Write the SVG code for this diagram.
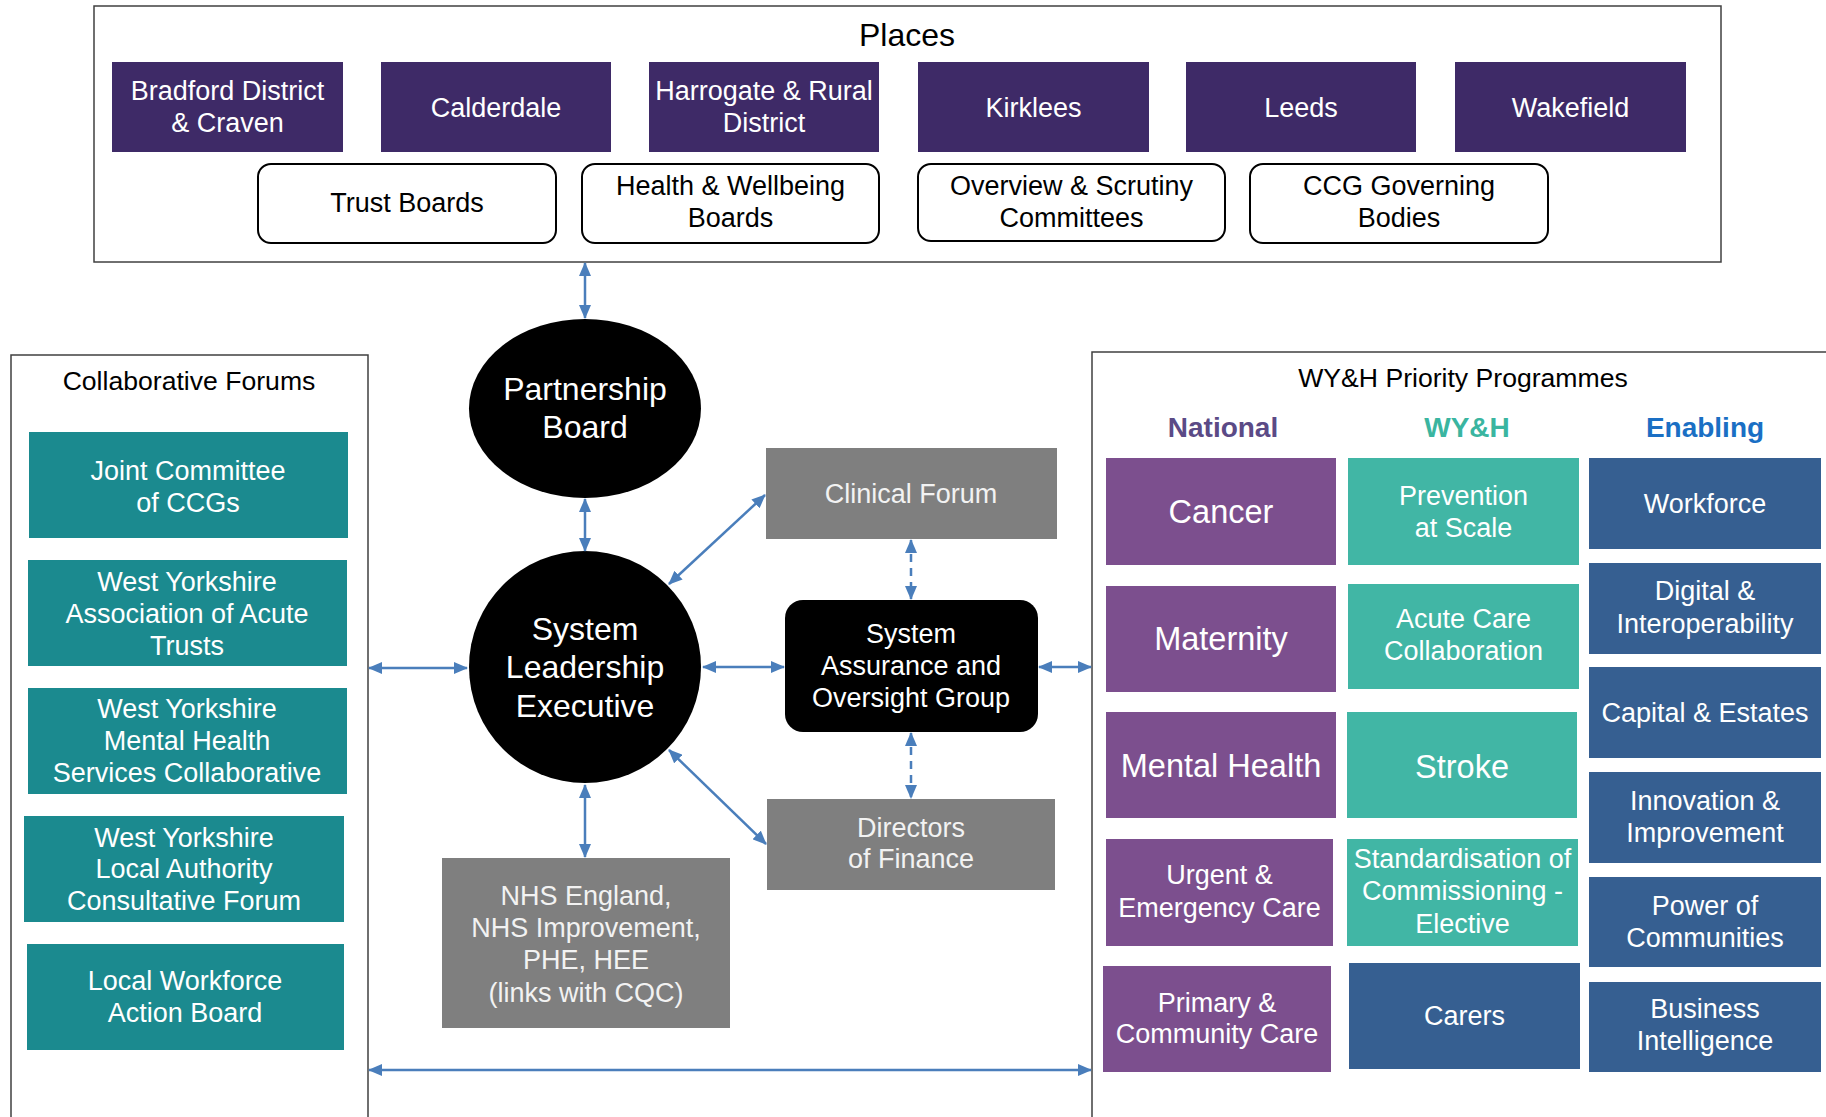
<svg xmlns="http://www.w3.org/2000/svg" width="1826" height="1117" viewBox="0 0 1826 1117">
<defs>
<style>
text{font-family:"Liberation Sans",Arial,sans-serif;text-anchor:middle;font-size:27px}
.w{fill:#fff}
.lg{fill:#f2f2f2}
.k{fill:#000}
.big{font-size:32px}
.med{font-size:32.5px}
.ttl{font-size:26.6px}
.hdr{font-weight:bold;font-size:28px}
.place{fill:#3e2a67}
.board{fill:#fff;stroke:#000;stroke-width:2}
.cf{fill:#1b8a8f}
.nat{fill:#7c4f8e}
.wyh{fill:#41b6a5}
.en{fill:#365f91}
.gray{fill:#7f7f7f}
.frame{fill:none;stroke:#404040;stroke-width:1.5}
.conn{stroke:#4a7ebb;stroke-width:2.5;fill:none;marker-start:url(#ah);marker-end:url(#ah)}
.dash{stroke-dasharray:8 6}
</style>
<marker id="ah" viewBox="0 0 14 12" refX="13" refY="6" markerWidth="14" markerHeight="12" markerUnits="userSpaceOnUse" orient="auto-start-reverse"><path d="M0,0 L14,6 L0,12 z" fill="#4a7ebb"/></marker>
</defs>
<rect width="1826" height="1117" fill="#fff"/>

<g id="places">
<rect class="frame" x="94" y="6" width="1627" height="256"/>
<text class="k" x="907" y="46" style="font-size:32px">Places</text>
</g>
<g id="bradford"><rect class="place" x="112" y="62" width="231" height="90"/><text class="w" x="227.5" y="100">Bradford District</text><text class="w" x="227.5" y="132">&amp; Craven</text></g>
<g id="calderdale"><rect class="place" x="381" y="62" width="230" height="90"/><text class="w" x="496" y="117">Calderdale</text></g>
<g id="harrogate"><rect class="place" x="649" y="62" width="230" height="90"/><text class="w" x="764" y="100">Harrogate &amp; Rural</text><text class="w" x="764" y="132">District</text></g>
<g id="kirklees"><rect class="place" x="918" y="62" width="231" height="90"/><text class="w" x="1033.5" y="117">Kirklees</text></g>
<g id="leeds"><rect class="place" x="1186" y="62" width="230" height="90"/><text class="w" x="1301" y="117">Leeds</text></g>
<g id="wakefield"><rect class="place" x="1455" y="62" width="231" height="90"/><text class="w" x="1570.5" y="117">Wakefield</text></g>

<g id="trust-boards"><rect class="board" x="258" y="164" width="298" height="79" rx="13"/><text class="k" x="407" y="212">Trust Boards</text></g>
<g id="hw-boards"><rect class="board" x="582" y="164" width="297" height="79" rx="13"/><text class="k" x="730.5" y="195">Health &amp; Wellbeing</text><text class="k" x="730.5" y="227">Boards</text></g>
<g id="overview"><rect class="board" x="918" y="164" width="307" height="77" rx="13"/><text class="k" x="1071.5" y="195">Overview &amp; Scrutiny</text><text class="k" x="1071.5" y="227">Committees</text></g>
<g id="ccg"><rect class="board" x="1250" y="164" width="298" height="79" rx="13"/><text class="k" x="1399" y="195">CCG Governing</text><text class="k" x="1399" y="227">Bodies</text></g>

<g id="collaborative-forums">
<path class="frame" d="M11,1120 V355 H368 V1120"/>
<text class="k ttl" x="189" y="390">Collaborative Forums</text>
</g>
<g id="joint-committee"><rect class="cf" x="29" y="432" width="319" height="106"/><text class="w" x="188" y="480">Joint Committee</text><text class="w" x="188" y="512">of CCGs</text></g>
<g id="wyaat"><rect class="cf" x="28" y="560" width="319" height="106"/><text class="w" x="187" y="591">West Yorkshire</text><text class="w" x="187" y="623">Association of Acute</text><text class="w" x="187" y="655">Trusts</text></g>
<g id="wymhsc"><rect class="cf" x="28" y="688" width="319" height="106"/><text class="w" x="187" y="718">West Yorkshire</text><text class="w" x="187" y="750">Mental Health</text><text class="w" x="187" y="782">Services Collaborative</text></g>
<g id="wylacf"><rect class="cf" x="24" y="816" width="320" height="106"/><text class="w" x="184" y="847">West Yorkshire</text><text class="w" x="184" y="878">Local Authority</text><text class="w" x="184" y="910">Consultative Forum</text></g>
<g id="lwab"><rect class="cf" x="27" y="944" width="317" height="106"/><text class="w" x="185" y="990">Local Workforce</text><text class="w" x="185" y="1022">Action Board</text></g>

<g id="partnership-board"><ellipse class="k" cx="585" cy="408.5" rx="116" ry="89.5"/><text class="w big" x="585" y="400">Partnership</text><text class="w big" x="585" y="438">Board</text></g>
<g id="sle"><ellipse class="k" cx="585" cy="667" rx="116" ry="116"/><text class="w big" x="585" y="640">System</text><text class="w big" x="585" y="678">Leadership</text><text class="w big" x="585" y="717">Executive</text></g>
<g id="clinical-forum"><rect class="gray" x="766" y="448" width="291" height="91"/><text class="lg" x="911" y="503">Clinical Forum</text></g>
<g id="saog"><rect class="k" x="785" y="600" width="253" height="132" rx="18"/><text class="w" x="911" y="643">System</text><text class="w" x="911" y="675">Assurance and</text><text class="w" x="911" y="707">Oversight Group</text></g>
<g id="directors-finance"><rect class="gray" x="767" y="799" width="288" height="91"/><text class="lg" x="911" y="837">Directors</text><text class="lg" x="911" y="868">of Finance</text></g>
<g id="nhs"><rect class="gray" x="442" y="858" width="288" height="170"/><text class="lg" x="586" y="905">NHS England,</text><text class="lg" x="586" y="937">NHS Improvement,</text><text class="lg" x="586" y="969">PHE, HEE</text><text class="lg" x="586" y="1002">(links with CQC)</text></g>

<g id="priority-programmes">
<path class="frame" d="M1092,1120 V352 H1830"/>
<text class="k ttl" x="1463" y="387">WY&amp;H Priority Programmes</text>
<text class="hdr" x="1223" y="437" fill="#5b4a86">National</text>
<text class="hdr" x="1467" y="437" fill="#3ab5a0">WY&amp;H</text>
<text class="hdr" x="1705" y="437" fill="#1a6fc4">Enabling</text>
</g>
<g id="cancer"><rect class="nat" x="1106" y="458" width="230" height="107"/><text class="w med" x="1221" y="523">Cancer</text></g>
<g id="maternity"><rect class="nat" x="1106" y="586" width="230" height="106"/><text class="w med" x="1221" y="650">Maternity</text></g>
<g id="mental-health"><rect class="nat" x="1106" y="712" width="230" height="106"/><text class="w med" x="1221" y="777">Mental Health</text></g>
<g id="urgent"><rect class="nat" x="1106" y="839" width="227" height="107"/><text class="w" x="1219.5" y="884">Urgent &amp;</text><text class="w" x="1219.5" y="917">Emergency Care</text></g>
<g id="primary"><rect class="nat" x="1103" y="966" width="228" height="106"/><text class="w" x="1217" y="1012">Primary &amp;</text><text class="w" x="1217" y="1043">Community Care</text></g>

<g id="prevention"><rect class="wyh" x="1348" y="458" width="231" height="107"/><text class="w" x="1463.5" y="505">Prevention</text><text class="w" x="1463.5" y="537">at Scale</text></g>
<g id="acute"><rect class="wyh" x="1348" y="584" width="231" height="105"/><text class="w" x="1463.5" y="628">Acute Care</text><text class="w" x="1463.5" y="660">Collaboration</text></g>
<g id="stroke"><rect class="wyh" x="1347" y="712" width="230" height="106"/><text class="w med" x="1462" y="778">Stroke</text></g>
<g id="standardisation"><rect class="wyh" x="1347" y="839" width="231" height="107"/><text class="w" x="1462.5" y="868">Standardisation of</text><text class="w" x="1462.5" y="900">Commissioning -</text><text class="w" x="1462.5" y="933">Elective</text></g>
<g id="carers"><rect class="en" x="1349" y="963" width="231" height="106"/><text class="w" x="1464.5" y="1025">Carers</text></g>

<g id="workforce"><rect class="en" x="1589" y="458" width="232" height="91"/><text class="w" x="1705" y="513">Workforce</text></g>
<g id="digital"><rect class="en" x="1589" y="563" width="232" height="91"/><text class="w" x="1705" y="600">Digital &amp;</text><text class="w" x="1705" y="633">Interoperability</text></g>
<g id="capital"><rect class="en" x="1589" y="667" width="232" height="91"/><text class="w" x="1705" y="722">Capital &amp; Estates</text></g>
<g id="innovation"><rect class="en" x="1589" y="772" width="232" height="91"/><text class="w" x="1705" y="810">Innovation &amp;</text><text class="w" x="1705" y="842">Improvement</text></g>
<g id="power"><rect class="en" x="1589" y="877" width="232" height="90"/><text class="w" x="1705" y="915">Power of</text><text class="w" x="1705" y="947">Communities</text></g>
<g id="business"><rect class="en" x="1589" y="982" width="232" height="90"/><text class="w" x="1705" y="1018">Business</text><text class="w" x="1705" y="1050">Intelligence</text></g>

<g id="connectors">
<path class="conn" d="M585,263 V318"/>
<path class="conn" d="M585,499 V551"/>
<path class="conn" d="M669,584 L765,495"/>
<path class="conn" d="M703,667 H784"/>
<path class="conn" d="M369,668 H467"/>
<path class="conn" d="M1039,667 H1091"/>
<path class="conn dash" d="M911,540 V599"/>
<path class="conn dash" d="M911,733 V798"/>
<path class="conn" d="M585,785 V857"/>
<path class="conn" d="M669,750 L766,844"/>
<path class="conn" d="M369,1070 H1091"/>
</g>
</svg>
